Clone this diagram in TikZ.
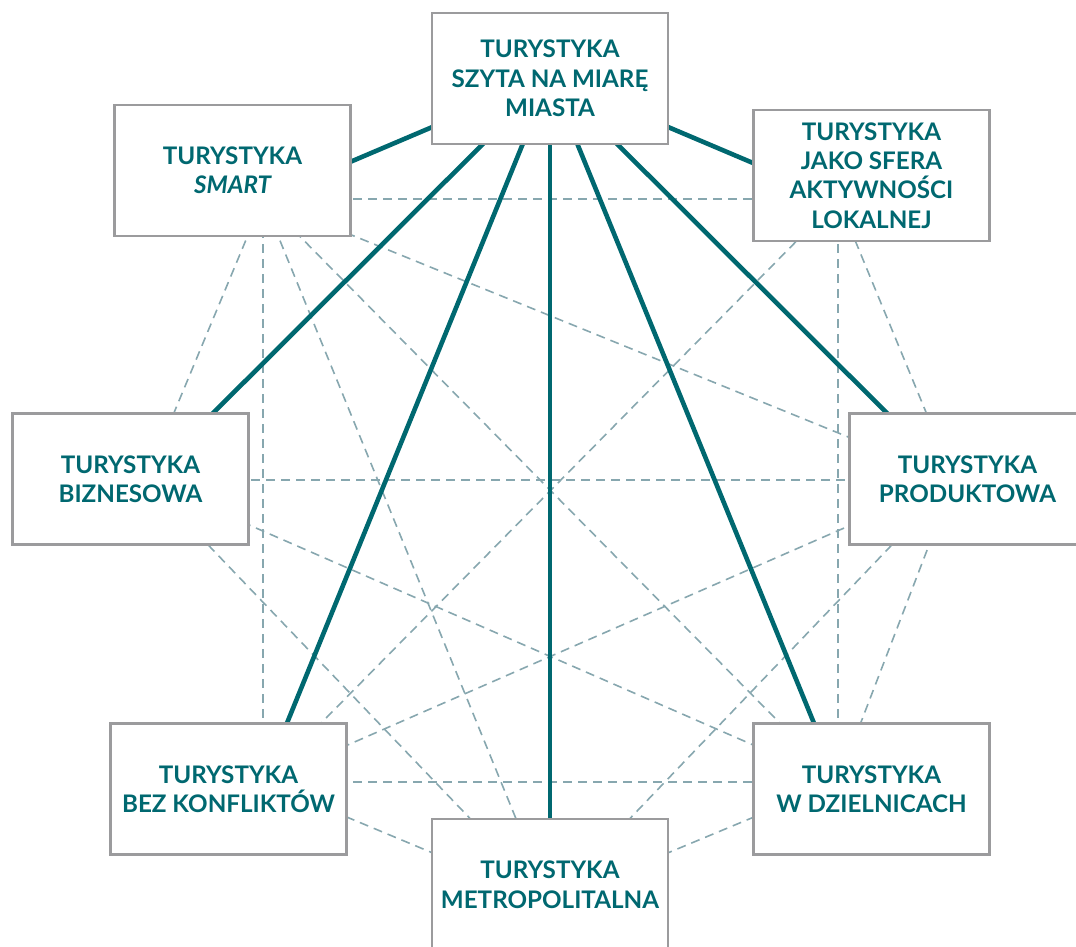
\documentclass[tikz,border=0pt]{standalone}
\usepackage{fontspec}
\setmainfont{Lato}
\definecolor{tealdark}{RGB}{0,104,112}
\definecolor{dashblue}{RGB}{135,167,175}
\definecolor{boxgray}{RGB}{155,155,157}
\tikzset{
  topic/.style={draw=boxgray,line width=2.4pt,fill=white,minimum width=236pt,minimum height=131pt,inner sep=0pt,align=center,text=tealdark,font=\fontsize{24.2}{29.5}\selectfont\bfseries},
  link/.style={draw=tealdark,line width=4.6pt},
  crosslink/.style={draw=dashblue,line width=1.6pt,dash pattern=on 9pt off 6pt}
}
\begin{document}
\begin{tikzpicture}[x=1pt,y=-1pt]
  \clip (0,0) rectangle (1076,947);
  % hubs
  \coordinate (hTop) at (550,77);
  \coordinate (hSmart) at (263,199);
  \coordinate (hLocal) at (838,199);
  \coordinate (hBiz) at (146,480);
  \coordinate (hProd) at (954,480);
  \coordinate (hConf) at (263,782);
  \coordinate (hDist) at (838,782);
  \coordinate (hMetro) at (550,902);
  % dashed web
  \draw[crosslink] (hSmart)--(hLocal); \draw[crosslink] (hSmart)--(hBiz);
  \draw[crosslink] (hSmart)--(hProd); \draw[crosslink] (hSmart)--(hConf);
  \draw[crosslink] (hSmart)--(hDist); \draw[crosslink] (hSmart)--(hMetro);
  \draw[crosslink] (hLocal)--(hProd); \draw[crosslink] (hLocal)--(hConf);
  \draw[crosslink] (hLocal)--(hDist);
  \draw[crosslink] (hBiz)--(hProd); \draw[crosslink] (hBiz)--(hDist);
  \draw[crosslink] (hBiz)--(hMetro);
  \draw[crosslink] (hProd)--(hConf); \draw[crosslink] (hProd)--(hDist);
  \draw[crosslink] (hProd)--(hMetro);
  \draw[crosslink] (hConf)--(hDist); \draw[crosslink] (hConf)--(hMetro);
  \draw[crosslink] (hDist)--(hMetro);
  % solid spokes
  \draw[link] (hTop)--(hSmart);
  \draw[link] (hTop)--(hLocal);
  \draw[link] (hTop)--(hBiz);
  \draw[link] (hTop)--(hProd);
  \draw[link] (hTop)--(hConf);
  \draw[link] (hTop)--(hDist);
  \draw[link] (hTop)--(hMetro);
  % boxes
  \node[topic] (top) at (550,78.5) {TURYSTYKA\\SZYTA NA MIARĘ\\MIASTA};
  \node[topic] (smart) at (232.5,170.5) {TURYSTYKA\\\itshape SMART};
  \node[topic] (local) at (871.5,175.5) {TURYSTYKA\\JAKO SFERA\\AKTYWNOŚCI\\LOKALNEJ};
  \node[topic] (biz) at (130.5,479) {TURYSTYKA\\BIZNESOWA};
  \node[topic] (prod) at (967.5,479) {TURYSTYKA\\PRODUKTOWA};
  \node[topic] (conf) at (228.5,789) {TURYSTYKA\\BEZ KONFLIKTÓW};
  \node[topic] (dist) at (871.5,789) {TURYSTYKA\\W DZIELNICACH};
  \node[topic] (metro) at (550,884.5) {TURYSTYKA\\METROPOLITALNA};
\end{tikzpicture}
\end{document}
